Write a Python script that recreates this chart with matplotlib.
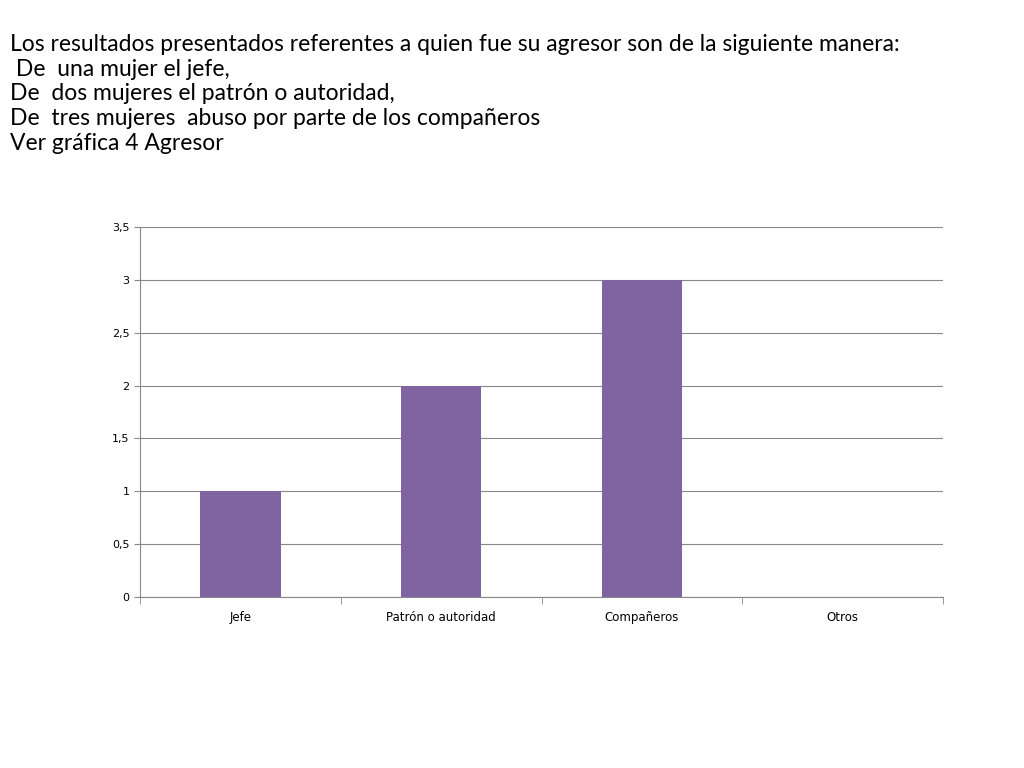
import matplotlib
matplotlib.use("Agg")
import matplotlib.pyplot as plt

categories = ["Jefe", "Patrón o autoridad", "Compañeros", "Otros"]
values = [1, 2, 3, 0]
yticks = [0, 0.5, 1, 1.5, 2, 2.5, 3, 3.5]
ytick_labels = ["0", "0,5", "1", "1,5", "2", "2,5", "3", "3,5"]
title_lines = [
    "Los resultados presentados referentes a quien fue su agresor son de la siguiente manera:",
    " De  una mujer el jefe,",
    "De  dos mujeres el patrón o autoridad,",
    "De  tres mujeres  abuso por parte de los compañeros",
    "Ver gráfica 4 Agresor",
]

fig = plt.figure(figsize=(10.24, 7.68), dpi=100)
fig.text(10/1024, 1-34/768, "\n".join(title_lines), fontsize=16.5, family="Lato",
         va="top", ha="left", linespacing=1.22)
ax = fig.add_axes([140/1024, 1-597/768, (943-140)/1024, (597-227)/768])
x = range(len(categories))
ax.bar(x, values, width=0.4, color="#8064A2", zorder=3)
ax.set_xlim(-0.5, 3.5)
ax.set_ylim(0, 3.5)
ax.set_yticks(yticks)
ax.set_yticklabels(ytick_labels, fontsize=8)
ax.set_xticks(list(x))
ax.set_xticklabels(categories, fontsize=8.5)
ax.set_xticks([-0.5, 0.5, 1.5, 2.5, 3.5], minor=True)
ax.tick_params(axis="x", which="major", length=0, pad=10)
ax.tick_params(axis="x", which="minor", length=5, color="#888888")
ax.tick_params(axis="y", length=4, color="#888888")
ax.grid(axis="y", color="#888888", linewidth=0.8, zorder=0)
for s in ["top", "right"]:
    ax.spines[s].set_visible(False)
for s in ["left", "bottom"]:
    ax.spines[s].set_color("#888888")
fig.savefig("out.png")
